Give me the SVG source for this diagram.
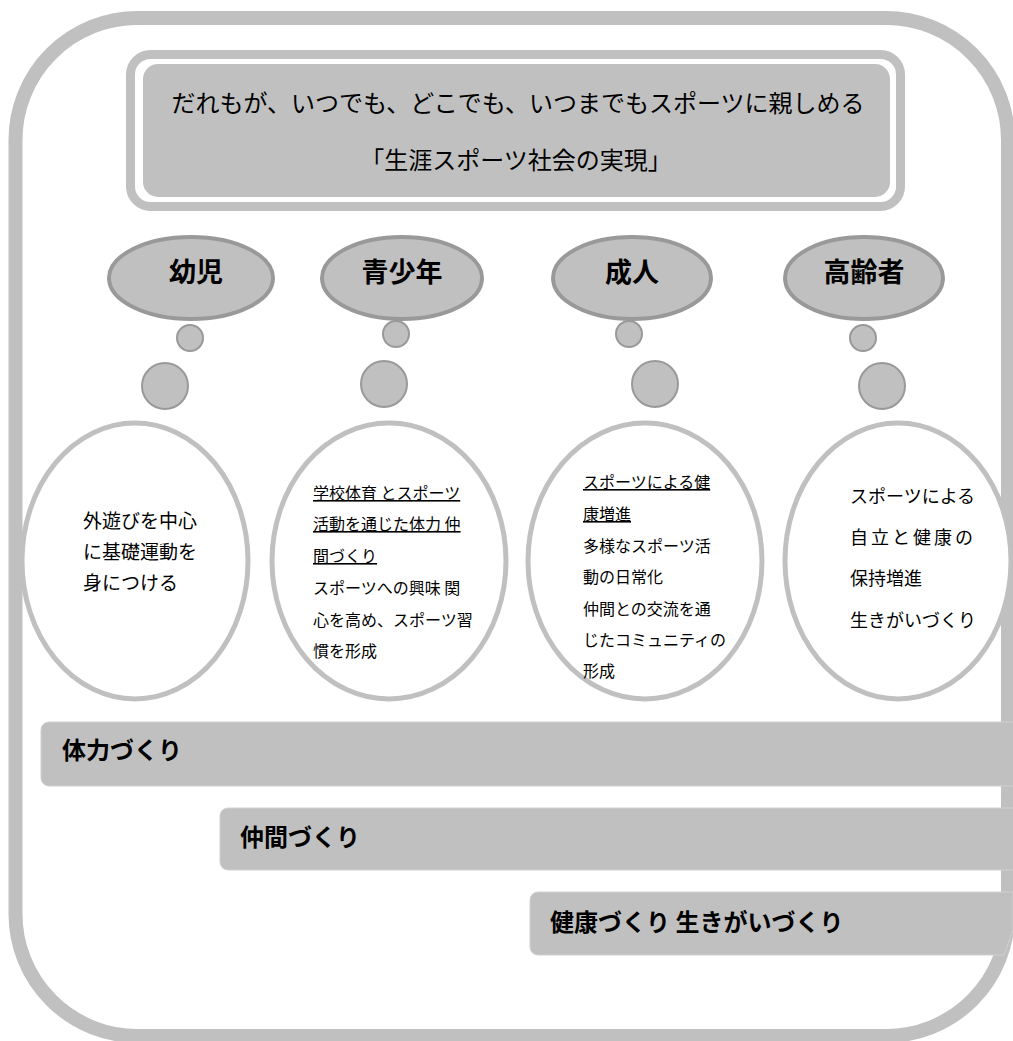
<svg xmlns="http://www.w3.org/2000/svg" width="1013" height="1041" viewBox="0 0 1013 1041">
<style>
.frame{fill:none;stroke:#c0c0c0;stroke-width:14}
.ring{fill:#ffffff;stroke:#c0c0c0;stroke-width:9}
.fillbox{fill:#c0c0c0}
.age{fill:#c0c0c0;stroke:#999999;stroke-width:4}
.dot{fill:#c0c0c0;stroke:#999999;stroke-width:2}
.bubble{fill:#ffffff;stroke:#c0c0c0;stroke-width:5}
.bar{fill:#c0c0c0;stroke:#d0d0d0;stroke-width:1}
text{font-family:"Noto Sans CJK JP","Noto Sans",sans-serif;fill:#000000}
.title{font-size:24px;text-anchor:middle}
.agelabel{font-size:27px;font-weight:bold;text-anchor:middle}
.t16{font-size:16px}
.t18{font-size:18px}
.t19{font-size:19px}
.barlabel{font-size:24px;font-weight:bold}
.ul{text-decoration:underline}
</style>
<g id="frame">
<rect class="frame" x="15.5" y="18" width="992.5" height="1018" rx="122" ry="122"/>
</g>
<g id="bars">
<g id="bar-tairyoku">
<rect class="bar" x="41" y="722" width="990" height="64" rx="8"/>
<text class="barlabel" x="62" y="759">体力づくり</text>
</g>
<g id="bar-nakama">
<rect class="bar" x="220" y="808" width="810" height="62" rx="8"/>
<text class="barlabel" x="240" y="846">仲間づくり</text>
</g>
<g id="bar-kenko">
<path class="bar" d="M538,892 H1013 V930 L1004,955 H538 A8,8 0 0 1 530,947 V900 A8,8 0 0 1 538,892 Z"/>
<text class="barlabel" x="550" y="931">健康づくり 生きがいづくり</text>
</g>
</g>
<g id="title">
<rect class="ring" x="130.5" y="54.5" width="770" height="152" rx="20"/>
<rect class="fillbox" x="143" y="64" width="747" height="133" rx="15"/>
<text class="title" x="518" y="112">だれもが、いつでも、どこでも、いつまでもスポーツに親しめる</text>
<text class="title" x="516" y="169">「生涯スポーツ社会の実現」</text>
</g>
<g id="connectors">
<circle class="dot" cx="190" cy="338" r="13"/>
<circle class="dot" cx="165" cy="386" r="23"/>
<circle class="dot" cx="396" cy="334" r="13"/>
<circle class="dot" cx="384" cy="384" r="23"/>
<circle class="dot" cx="629" cy="334" r="13"/>
<circle class="dot" cx="655" cy="384" r="23"/>
<circle class="dot" cx="863" cy="338" r="13"/>
<circle class="dot" cx="882" cy="386" r="23"/>
</g>
<g id="age-youji">
<ellipse class="age" cx="191" cy="278" rx="82" ry="41"/>
<text class="agelabel" x="196" y="282">幼児</text>
</g>
<g id="age-seishonen">
<ellipse class="age" cx="402" cy="278" rx="80" ry="41"/>
<text class="agelabel" x="402" y="282">青少年</text>
</g>
<g id="age-seijin">
<ellipse class="age" cx="632" cy="278" rx="79" ry="41"/>
<text class="agelabel" x="632" y="282">成人</text>
</g>
<g id="age-koreisha">
<ellipse class="age" cx="864" cy="278" rx="79" ry="41"/>
<text class="agelabel" x="864" y="282">高齢者</text>
</g>
<g id="bubble-youji">
<ellipse class="bubble" cx="135" cy="561" rx="113" ry="138"/>
<text class="t19" x="83" y="528">外遊びを中心</text>
<text class="t19" x="83" y="559">に基礎運動を</text>
<text class="t19" x="83" y="590">身につける</text>
</g>
<g id="bubble-seishonen">
<ellipse class="bubble" cx="389" cy="561" rx="117" ry="138"/>
<text class="t16 ul" x="313" y="499"> 学校体育 とスポーツ</text>
<text class="t16 ul" x="313" y="530">活動を通じた体力 仲</text>
<text class="t16 ul" x="313" y="562">間づくり</text>
<text class="t16" x="313" y="594">スポーツへの興味 関</text>
<text class="t16" x="313" y="626">心を高め、スポーツ習</text>
<text class="t16" x="313" y="657">慣を形成</text>
</g>
<g id="bubble-seijin">
<ellipse class="bubble" cx="645" cy="561" rx="117" ry="138"/>
<text class="t16 ul" x="583" y="488"> スポーツによる健</text>
<text class="t16 ul" x="583" y="520">康増進</text>
<text class="t16" x="583" y="552">多様なスポーツ活</text>
<text class="t16" x="583" y="583">動の日常化</text>
<text class="t16" x="583" y="615">仲間との交流を通</text>
<text class="t16" x="583" y="646">じたコミュニティの</text>
<text class="t16" x="583" y="677">形成</text>
</g>
<g id="bubble-koreisha">
<ellipse class="bubble" cx="898" cy="561" rx="113" ry="138"/>
<text class="t18" x="850" y="503">スポーツによる</text>
<text class="t18" x="850" y="544" letter-spacing="3">自立と健康の</text>
<text class="t18" x="850" y="585">保持増進</text>
<text class="t18" x="850" y="627">生きがいづくり</text>
</g>
</svg>
